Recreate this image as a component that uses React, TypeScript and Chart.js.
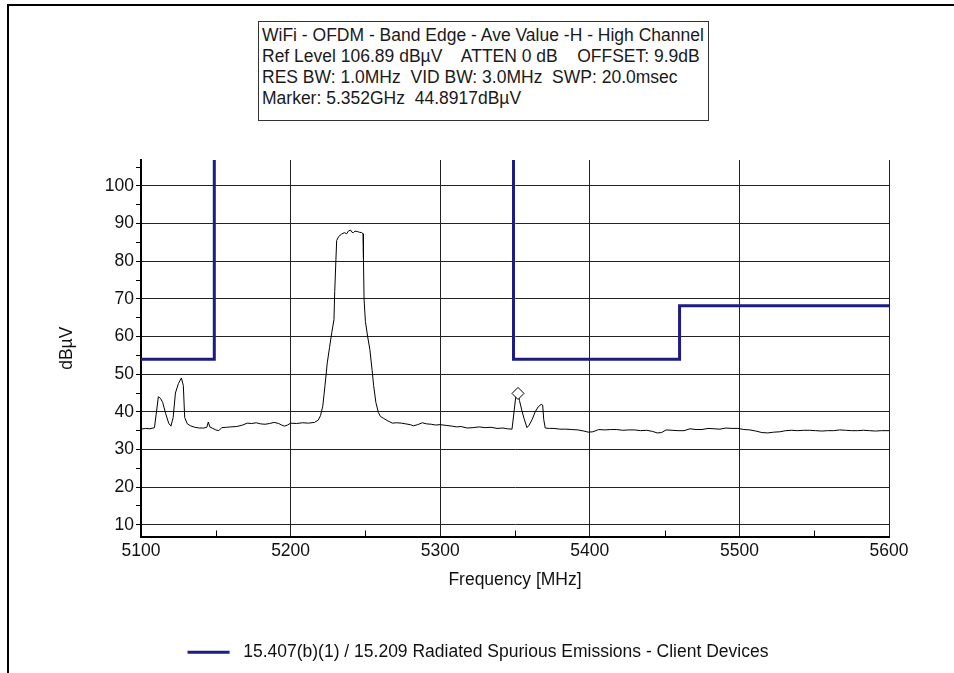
import React, { useEffect, useRef } from "react";
import { Chart, registerables } from "chart.js";

Chart.register(...registerables);

// ---- Data ----
const HEADER_LINES = [
  "WiFi - OFDM - Band Edge - Ave Value -H - High Channel",
  "Ref Level 106.89 dBµV    ATTEN 0 dB    OFFSET: 9.9dB",
  "RES BW: 1.0MHz  VID BW: 3.0MHz  SWP: 20.0msec",
  "Marker: 5.352GHz  44.8917dBµV",
];

const X_MIN = 5100;
const X_MAX = 5600;
const Y_MIN = 6.89;
const Y_MAX = 106.89;
const X_TICKS = [5100, 5150, 5200, 5250, 5300, 5350, 5400, 5450, 5500, 5550, 5600];
const Y_TICKS = [10, 15, 20, 25, 30, 35, 40, 45, 50, 55, 60, 65, 70, 75, 80, 85, 90, 95, 100, 105];

const LIMIT_LABEL = "15.407(b)(1) / 15.209 Radiated Spurious Emissions - Client Devices";
const LIMIT_FREQ = [5100, 5149, 5149, 5250, 5349, 5349, 5460, 5460, 5600];
const LIMIT_LEVEL = [54, 54, 115, null, 115, 54, 54, 68.2, 68.2];

const MARKER_FREQ = [5352];
const MARKER_LEVEL = [44.89];

const TRACE_FREQ = [
  5100, 5103, 5106, 5109, 5110.5, 5111.6, 5113, 5114.5, 5116.5, 5118.5,
  5120, 5121.5, 5123, 5125, 5127, 5128.3, 5129.2, 5131, 5133, 5136,
  5139, 5142, 5144, 5145, 5146, 5148, 5150, 5152, 5154, 5157,
  5160, 5164, 5168, 5171, 5174, 5177, 5180, 5183, 5186, 5189,
  5192, 5194, 5196, 5198, 5200, 5204, 5208, 5212, 5216, 5218.5,
  5220, 5221.5, 5223, 5224.5, 5226, 5227.5, 5229, 5229.5, 5230.3, 5230.8,
  5232, 5234, 5236, 5237.5, 5238.6, 5240, 5241, 5242, 5243, 5244.5,
  5246, 5247.5, 5248.4, 5248.7, 5249.1, 5250, 5251.5, 5253, 5254.5, 5255.5,
  5257, 5258.7, 5260, 5262, 5265, 5268, 5271, 5274, 5277, 5280,
  5282, 5285, 5288, 5291, 5294, 5297, 5300, 5304, 5308, 5311,
  5314, 5318, 5322, 5326, 5330, 5334, 5338, 5342, 5345, 5348,
  5349.5, 5350.5, 5351.2, 5352, 5353, 5354.5, 5356, 5358, 5359.5, 5361.5,
  5363.5, 5365.5, 5367.5, 5368.5, 5369.2, 5370.2, 5373, 5376, 5380, 5384,
  5388, 5392, 5396, 5399, 5402, 5406, 5410, 5414, 5418, 5422,
  5426, 5430, 5434, 5438, 5442, 5445, 5448, 5451, 5455, 5459,
  5463, 5467, 5471, 5475, 5479, 5483, 5487, 5491, 5495, 5499,
  5503, 5507, 5511, 5515, 5519, 5523, 5527, 5531, 5535, 5539,
  5543, 5547, 5551, 5555, 5559, 5563, 5567, 5571, 5575, 5579,
  5583, 5587, 5591, 5595, 5600,
];
const TRACE_LEVEL = [
  35.4, 35.6, 35.5, 35.8, 40.5, 44.0, 43.6, 42.5, 39.5, 37.0,
  36.2, 38.5, 45.0, 47.5, 49.0, 47.0, 38.5, 36.8, 36.3, 35.9,
  35.7, 35.7, 35.9, 37.3, 36.0, 35.6, 35.2, 35.0, 35.8, 35.9,
  36.0, 36.1, 36.5, 37.0, 36.9, 37.1, 36.8, 36.7, 36.9, 37.2,
  36.9, 36.5, 36.2, 36.5, 37.0, 36.9, 37.1, 37.0, 37.2, 37.8,
  39.0, 41.5, 47.0, 53.0, 57.0, 61.0, 64.5, 72.0, 80.5, 85.5,
  86.5, 87.2, 87.6, 87.3, 88.0, 88.3, 87.7, 87.6, 88.0, 87.9,
  87.7, 87.6, 87.3, 80.5, 70.0, 64.0, 60.0, 56.5, 51.0, 47.0,
  42.5, 39.8, 38.8, 38.3, 37.6, 37.0, 37.1, 37.0, 36.8, 36.6,
  36.3, 36.6, 37.1, 36.8, 36.7, 36.5, 36.6, 36.4, 36.2, 36.0,
  36.1, 35.7, 35.8, 36.0, 35.8, 35.9, 35.6, 35.7, 35.5, 35.4,
  40.5, 44.0, 44.9, 44.9, 43.0, 40.5, 38.3, 35.8, 36.5, 38.0,
  40.0, 41.3, 42.0, 41.8, 38.0, 35.7, 35.6, 35.6, 35.4, 35.4,
  35.3, 35.2, 34.9, 34.6, 34.7, 35.3, 35.2, 35.3, 35.3, 35.1,
  35.2, 35.2, 35.0, 35.1, 34.8, 34.4, 34.5, 35.2, 35.1, 35.0,
  35.0, 35.5, 35.3, 35.3, 35.6, 35.5, 35.4, 35.7, 35.6, 35.6,
  35.3, 35.2, 34.9, 34.5, 34.4, 34.6, 34.7, 35.0, 35.1, 35.0,
  35.1, 35.1, 35.0, 34.9, 35.0, 35.0, 35.2, 35.1, 35.0, 35.0,
  35.1, 35.0, 34.9, 35.0, 35.0,
];

const FONT = "'Liberation Sans', Arial, sans-serif";
const FS = 17.5;
const NAVY = "#1c1c84";
const GRID = "#222";

const minorTicksPlugin = {
  id: "minorTicks",
  afterDraw(chart: any) {
    const xs = chart.scales.x;
    const { bottom } = chart.chartArea;
    const ctx = chart.ctx;
    ctx.save();
    ctx.strokeStyle = "#000";
    ctx.lineWidth = 1;
    for (const v of X_TICKS) {
      if (v % 100 === 0) continue;
      const px = Math.round(xs.getPixelForValue(v)) + 0.5;
      ctx.beginPath();
      ctx.moveTo(px, bottom);
      ctx.lineTo(px, bottom - 6);
      ctx.stroke();
    }
    ctx.restore();
  },
};

export default function App() {
  const canvasRef = useRef<HTMLCanvasElement | null>(null);

  useEffect(() => {
    const canvas = canvasRef.current;
    if (!canvas) return;
    const trace = TRACE_FREQ.map((f, i) => ({ x: f, y: TRACE_LEVEL[i] }));
    const limit = LIMIT_FREQ.map((f, i) => ({ x: f, y: LIMIT_LEVEL[i] }));
    const marker = MARKER_FREQ.map((f, i) => ({ x: f, y: MARKER_LEVEL[i] }));

    const chart = new Chart(canvas, {
      type: "line",
      data: {
        datasets: [
          {
            label: "Marker",
            data: marker,
            showLine: false,
            pointStyle: "rectRot",
            pointRadius: 6,
            pointBackgroundColor: "#fff",
            pointBorderColor: "#000",
            pointBorderWidth: 1,
            order: 0,
          },
          {
            label: LIMIT_LABEL,
            data: limit as any,
            borderColor: NAVY,
            backgroundColor: NAVY,
            borderWidth: 3,
            pointRadius: 0,
            spanGaps: false,
            tension: 0,
            order: 1,
          },
          {
            label: "Trace",
            data: trace,
            borderColor: "#000",
            backgroundColor: "#000",
            borderWidth: 1,
            pointRadius: 0,
            tension: 0,
            order: 2,
          },
        ],
      },
      options: {
        animation: false,
        responsive: false,
        maintainAspectRatio: false,
        layout: { padding: { top: 160, left: 67, right: 65, bottom: 2 } },
        plugins: {
          tooltip: { enabled: false },
          legend: {
            position: "bottom",
            labels: {
              font: { family: FONT, size: FS },
              color: "#111",
              boxWidth: 42,
              boxHeight: 3,
              padding: 3,
              generateLabels: (ch: any) =>
                (Chart.defaults.plugins.legend.labels as any)
                  .generateLabels(ch)
                  .filter((l: any) => l.text === LIMIT_LABEL)
                  .map((l: any) => ({ ...l, text: " " + l.text, lineWidth: 0 })),
            },
          },
        },
        scales: {
          x: {
            type: "linear",
            min: X_MIN,
            max: X_MAX,
            afterBuildTicks: (s: any) => {
              s.ticks = X_TICKS.map((v) => ({ value: v }));
            },
            afterFit: (s: any) => {
              s.height = 104;
            },
            ticks: {
              autoSkip: false,
              maxRotation: 0,
              padding: 4,
              color: "#111",
              font: { family: FONT, size: FS },
              callback: (v: any) => (Number(v) % 100 === 0 ? String(v) : ""),
            },
            grid: {
              drawTicks: false,
              color: (c: any) => (c.tick && c.tick.value % 100 === 0 ? GRID : "rgba(0,0,0,0)"),
              lineWidth: 1,
            },
            border: { display: true, color: "#000", width: 2 },
            title: {
              display: true,
              text: "Frequency [MHz]",
              color: "#111",
              font: { family: FONT, size: FS },
              padding: { top: 0, bottom: 49.5 },
            },
          },
          y: {
            type: "linear",
            min: Y_MIN,
            max: Y_MAX,
            afterBuildTicks: (s: any) => {
              s.ticks = Y_TICKS.map((v) => ({ value: v }));
            },
            afterFit: (s: any) => {
              s.width = 74;
            },
            ticks: {
              autoSkip: false,
              padding: 2,
              color: "#111",
              font: { family: FONT, size: FS },
              callback: (v: any) => (Number(v) % 10 === 0 && Number(v) <= 100 ? String(v) : ""),
            },
            grid: {
              drawTicks: true,
              tickLength: 5,
              tickColor: "#000",
              color: (c: any) =>
                c.tick && c.tick.value % 10 === 0 && c.tick.value <= 100 ? GRID : "rgba(0,0,0,0)",
              lineWidth: 1,
            },
            border: { display: true, color: "#000", width: 2 },
            title: {
              display: true,
              text: "dBµV",
              color: "#111",
              font: { family: FONT, size: FS },
              padding: { top: -10.5, bottom: 0 },
            },
          },
        },
      },
      plugins: [minorTicksPlugin],
    });
    return () => chart.destroy();
  }, []);

  return (
    <div style={{ position: "absolute", left: 0, top: 0, width: 954, height: 673, background: "#fff", overflow: "hidden" }}>
      <div
        style={{
          position: "absolute",
          left: 7,
          top: 4,
          width: 947,
          height: 669,
          borderTop: "2px solid #000",
          borderLeft: "2px solid #000",
          boxSizing: "border-box",
        }}
      />
      <canvas ref={canvasRef} width={954} height={673} style={{ position: "absolute", left: 0, top: 0 }} />
      <div
        style={{
          position: "absolute",
          left: 258,
          top: 21,
          width: 451,
          height: 100,
          border: "1px solid #333",
          boxSizing: "border-box",
          background: "#fff",
          padding: "3px 0 0 3px",
          fontFamily: FONT,
          fontSize: 17.5,
          lineHeight: "21px",
          color: "#1a1a1a",
          whiteSpace: "pre",
        }}
      >
        {HEADER_LINES.map((t, i) => (
          <div key={i}>{t}</div>
        ))}
      </div>
    </div>
  );
}
